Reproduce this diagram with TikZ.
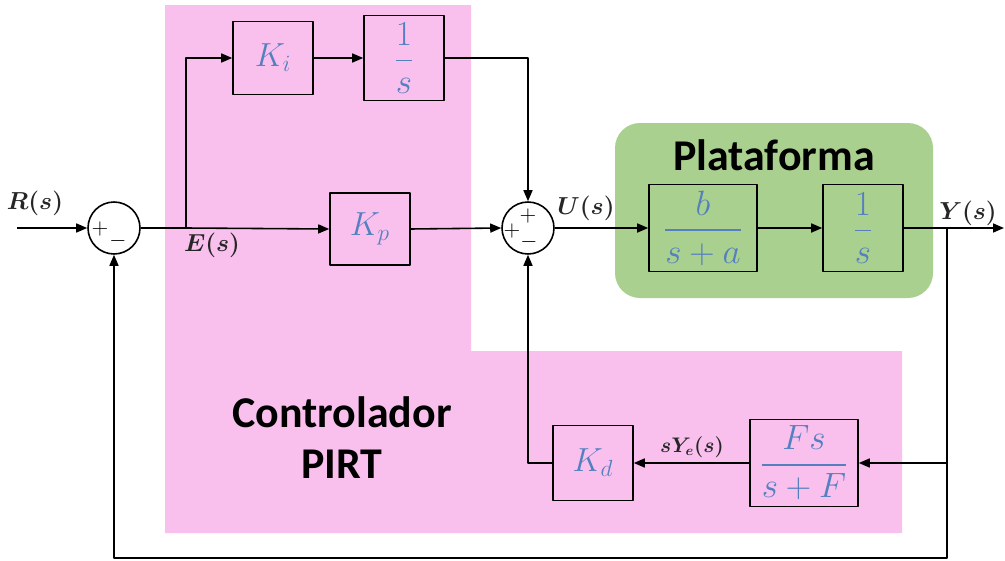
\RequirePackage{fix-cm}
\documentclass[tikz,border=0pt]{standalone}
\usepackage{amsmath,amssymb}
\usepackage{xcolor}
\usepackage{fontspec}
\newfontfamily\titlefont{Carlito}
\usetikzlibrary{arrows.meta,calc}

\definecolor{pirtpink}{RGB}{249,192,238}
\definecolor{platgreen}{RGB}{169,208,142}
\definecolor{tfblue}{RGB}{84,128,192}

\tikzset{
  blk/.style={draw,line width=0.9pt,inner sep=0pt,text=tfblue,font=\fontsize{19}{22}\selectfont},
  frac/.style={blk,font=\fontsize{20}{24}\selectfont},
  sumnode/.style={circle,draw,line width=0.9pt,inner sep=0pt,minimum size=1.04cm},
  sig/.style={inner sep=0pt,font=\fontsize{12.5}{14}\selectfont},
  sigl/.style={inner sep=0pt,text=black!85,font=\fontsize{14}{16}\selectfont},
  grp/.style={inner sep=0pt,font=\titlefont\bfseries\fontsize{25}{29}\selectfont},
}

\begin{document}
\begin{tikzpicture}[x=0.02cm,y=-0.02cm,>={Triangle[length=2.2mm,width=1.8mm]},line join=round]
  \useasboundingbox (0,0) rectangle (1005,561);
  % background areas
  \fill[pirtpink] (165,5) -- (471,5) -- (471,351) -- (902,351) -- (902,533) -- (165,533) -- cycle;
  \fill[platgreen,rounded corners=0.5cm] (615,123) rectangle (933,298);
  \node[grp] (tplat) at (774,155) {Plataforma};
  \node[grp,align=center] (tpirt) at (342,438) {Controlador\\PIRT};
  % blocks
  \node[sumnode] (S1) at (114,228) {};
  \node[sumnode] (S2) at (528,228) {};
  \node[blk,minimum width=1.6cm,minimum height=1.46cm] (Ki) at (273,58) {$K_i$};
  \node[frac,minimum width=1.6cm,minimum height=1.7cm] (I1) at (404,58) {$\dfrac{1}{s}$};
  \node[blk,minimum width=1.6cm,minimum height=1.44cm] (Kp) at (370,229) {$K_p$};
  \node[frac,minimum width=2.16cm,minimum height=1.74cm] (Gp) at (703,228) {$\dfrac{b}{s+a}$};
  \node[frac,minimum width=1.6cm,minimum height=1.74cm] (I2) at (863,228) {$\dfrac{1}{s}$};
  \node[frac,minimum width=2.16cm,minimum height=1.74cm] (Fd) at (804,463) {$\dfrac{Fs}{s+F}$};
  \node[blk,minimum width=1.6cm,minimum height=1.5cm] (Kd) at (593,463) {$K_d$};
  % signs
  \node[sig] (s1a) at ($(S1)+(-14,1)$) {$+$};
  \node[sig] (s1b) at ($(S1)+(4,13)$) {$-$};
  \node[sig] (s2a) at ($(S2)+(0,-12)$) {$+$};
  \node[sig] (s2b) at ($(S2)+(-16,3)$) {$+$};
  \node[sig] (s2c) at ($(S2)+(1,14)$) {$-$};
  % branch points
  \coordinate (Rin) at (17,228);
  \coordinate (Eb) at (186,228);
  \coordinate (Yb) at (947,228);
  \coordinate (Yout) at (1004,228);
  \coordinate (Fb) at (947,558);
  % connectors
  \draw[line width=0.9pt,->] (Rin) -- (S1.west);
  \draw[line width=0.9pt] (S1.east) -- (Eb);
  \draw[line width=0.9pt,->] (Eb) |- (Ki.west);
  \draw[line width=0.9pt,->] (Eb) -- (Kp.west);
  \draw[line width=0.9pt,->] (Ki.east) -- (I1.west);
  \draw[line width=0.9pt,->] (I1.east) -| (S2.north);
  \draw[line width=0.9pt,->] (Kp.east) -- (S2.west);
  \draw[line width=0.9pt,->] (S2.east) -- (Gp.west);
  \draw[line width=0.9pt,->] (Gp.east) -- (I2.west);
  \draw[line width=0.9pt] (I2.east) -- (Yb);
  \draw[line width=0.9pt,->] (Yb) -- (Yout);
  \draw[line width=0.9pt,->] (Yb) |- (Fd.east);
  \draw[line width=0.9pt,->] (Fd.west) -- (Kd.east);
  \draw[line width=0.9pt,->] (Kd.west) -| (S2.south);
  \draw[line width=0.9pt,->] (Yb) -- (Fb) -| (S1.south);
  % signal labels
  \node[sigl] (lR) at (35,203) {$\boldsymbol{R(s)}$};
  \node[sigl] (lE) at (212,245) {$\boldsymbol{E(s)}$};
  \node[sigl] (lU) at (586,208) {$\boldsymbol{U(s)}$};
  \node[sigl] (lY) at (968,213) {$\boldsymbol{Y(s)}$};
  \node[sigl,font=\fontsize{12}{14}\selectfont] (lsY) at (692,447) {$\boldsymbol{sY_e(s)}$};
\end{tikzpicture}
\end{document}
